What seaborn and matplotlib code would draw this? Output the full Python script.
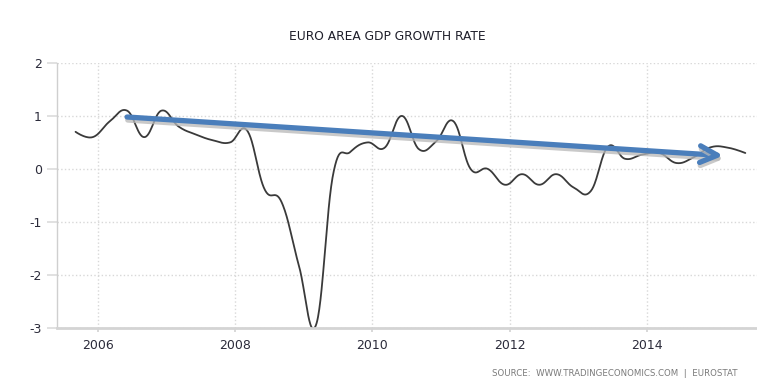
import numpy as np
import pandas as pd
import matplotlib
matplotlib.use("Agg")
import matplotlib.pyplot as plt
import matplotlib.patheffects as pe
import seaborn as sns

# Quarterly GDP growth (q/q, %), euro area, 2005Q3 .. 2015Q2
years = [2005, 2005,
         2006, 2006, 2006, 2006,
         2007, 2007, 2007, 2007,
         2008, 2008, 2008, 2008,
         2009, 2009, 2009, 2009,
         2010, 2010, 2010, 2010,
         2011, 2011, 2011, 2011,
         2012, 2012, 2012, 2012,
         2013, 2013, 2013, 2013,
         2014, 2014, 2014, 2014,
         2015, 2015]
quarters = [3, 4] + [1, 2, 3, 4] * 9 + [1, 2]
growth = [0.70, 0.60,
          0.90, 1.10, 0.60, 1.10,
          0.80, 0.65, 0.54, 0.50,
          0.72, -0.38, -0.63, -1.82,
          -2.95, -0.10, 0.32, 0.50,
          0.40, 1.00, 0.37, 0.52,
          0.90, 0.00, 0.00, -0.30,
          -0.10, -0.30, -0.10, -0.35,
          -0.42, 0.42, 0.19, 0.27,
          0.30, 0.11, 0.22, 0.41,
          0.40, 0.30]

# hand drawn trend arrow (start / end), in data units
trend_x = [2006.43, 2015.11]
trend_y = [0.98, 0.25]

year_ticks = [2006, 2008, 2010, 2012, 2014]
value_ticks = [-3, -2, -1, 0, 1, 2]

df = pd.DataFrame({"year": years, "quarter": quarters, "growth": growth})
df["t"] = df["year"] + (df["quarter"] - 1) * 0.25 + 0.18


def spline(x, y, smoothing=1.5, n=30):
    # same bezier spline the web chart draws between the quarterly points
    x = np.asarray(x, float)
    y = np.asarray(y, float)
    k = len(x)
    slope = np.zeros(k)
    slope[1:-1] = (y[2:] - y[:-2]) / (x[2:] - x[:-2])
    c = 1.0 / (smoothing + 1)
    t = np.linspace(0, 1, n)[:, None]
    out = []
    for i in range(k - 1):
        dx = x[i + 1] - x[i]
        p0 = np.array([x[i], y[i]])
        p3 = np.array([x[i + 1], y[i + 1]])
        p1 = p0 if i == 0 else p0 + c * np.array([dx, slope[i] * dx])
        p2 = p3 if i == k - 2 else p3 - c * np.array([dx, slope[i + 1] * dx])
        seg = ((1 - t) ** 3) * p0 + 3 * ((1 - t) ** 2) * t * p1 \
            + 3 * (1 - t) * t ** 2 * p2 + t ** 3 * p3
        out.append(seg if i == 0 else seg[1:])
    out = np.vstack(out)
    return out[:, 0], out[:, 1]


sx, sy = spline(df["t"], df["growth"])
smooth = pd.DataFrame({"t": sx, "growth": sy})

sns.set_theme(style="white")
plt.rcParams["font.family"] = ["DejaVu Sans"]

fig = plt.figure(figsize=(7.57, 3.92), dpi=100)
ax = fig.add_axes([57 / 757, 1 - 327.7 / 392, 1 - 57 / 757, (327.7 - 63) / 392])

sns.lineplot(data=smooth, x="t", y="growth", ax=ax, color="#3a3a3a",
             linewidth=1.3, sort=False)

ax.annotate("", xy=(trend_x[1], trend_y[1]), xytext=(trend_x[0], trend_y[0]),
            arrowprops=dict(arrowstyle="->,head_length=0.62,head_width=0.3",
                            color="#4a7ebb", lw=3.8, shrinkA=0, shrinkB=0,
                            mutation_scale=20,
                            path_effects=[pe.SimpleLineShadow(offset=(0.5, -2.2),
                                                              shadow_color="#b8b8b8",
                                                              alpha=0.75),
                                          pe.Normal()]))

ax.set_xlim(2005.41, 2015.6)
ax.set_ylim(-3, 2)
ax.set_xticks(year_ticks)
ax.set_yticks(value_ticks)
ax.set_xticklabels([str(v) for v in year_ticks])
ax.set_yticklabels([str(v) for v in value_ticks])
ax.set_xlabel("")
ax.set_ylabel("")

ax.grid(True, color="#d8d8d8", linestyle=":", linewidth=1.0)
for side in ["top", "right"]:
    ax.spines[side].set_visible(False)
ax.spines["left"].set_color("#cfcfcf")
ax.spines["left"].set_linewidth(1.0)
ax.spines["bottom"].set_color("#d4d4d4")
ax.spines["bottom"].set_linewidth(2.0)

ax.tick_params(axis="y", length=7, color="#dddddd", pad=4,
               labelsize=9, labelcolor="#2b2b3a")
ax.tick_params(axis="x", length=3, color="#d4d4d4", pad=5,
               labelsize=9, labelcolor="#2b2b3a")
ax.tick_params(left=True, bottom=True)

fig.text(387.7 / 757, 1 - 37 / 392, "EURO AREA GDP GROWTH RATE",
         ha="center", va="center", fontsize=8.8, color="#1e1e2a")
fig.text(737 / 757, 1 - 374 / 392,
         "SOURCE:  WWW.TRADINGECONOMICS.COM  |  EUROSTAT",
         ha="right", va="center", fontsize=6.2, color="#7a7a7a")

fig.savefig("out.png", dpi=100)
